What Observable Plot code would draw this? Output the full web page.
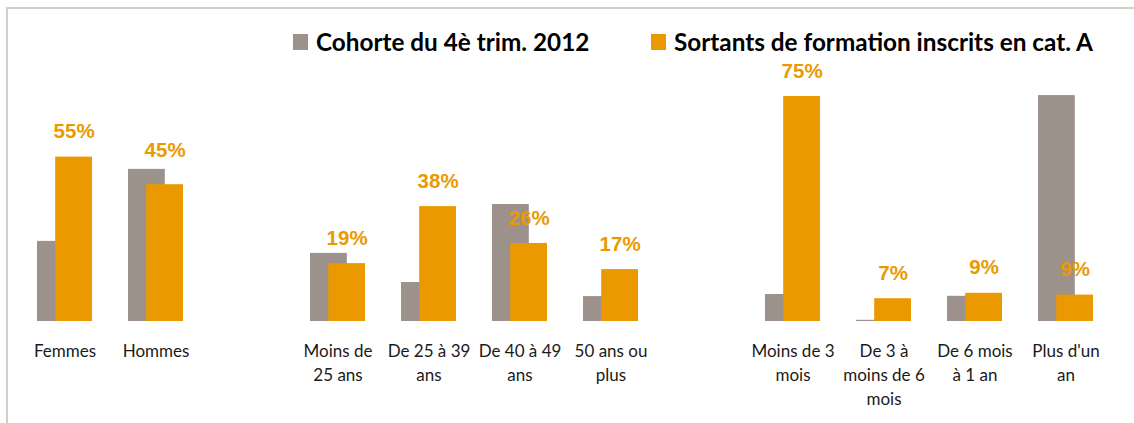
<!DOCTYPE html>
<html>
<head>
<meta charset="utf-8">
<script src="https://cdn.jsdelivr.net/npm/d3@7"></script>
<script src="https://cdn.jsdelivr.net/npm/@observablehq/plot@0.6"></script>
<style>
  html, body { margin: 0; padding: 0; background: #fff; }
  #wrap { position: relative; width: 1134px; height: 423px; overflow: hidden; background: #fff; }
  #frame { position: absolute; left: 6px; top: 7px; width: 1200px; height: 500px;
           border-left: 2px solid #d3ccc7; border-top: 2px solid #d3ccc7; box-sizing: border-box; }
  #chart { position: absolute; left: 0; top: 0; }
  .leg { position: absolute; top: 27px; display: flex; align-items: center;
         font-family: Lato, "Noto Sans", sans-serif; font-weight: 700; font-size: 24.3px; color: #000; white-space: nowrap; }
  .sw { width: 15px; height: 16px; margin-right: 8px; }
</style>
</head>
<body>
<div id="wrap">
  <div id="frame"></div>
  <div id="chart"></div>
  <div id="legend"></div>
</div>
<script>
const seriesNames = ["Cohorte du 4è trim. 2012", "Sortants de formation inscrits en cat. A"];
const seriesColors = ["#9c918b", "#ea9a00"];
const categories = ["Femmes", "Hommes", "Moins de 25 ans", "De 25 à 39 ans", "De 40 à 49 ans", "50 ans ou plus",
  "Moins de 3 mois", "De 3 à moins de 6 mois", "De 6 mois à 1 an", "Plus d'un an"];
const tickLabels = ["Femmes", "Hommes", "Moins de\n25 ans", "De 25 à 39\nans", "De 40 à 49\nans", "50 ans ou\nplus",
  "Moins de 3\nmois", "De 3 à\nmoins de 6\nmois", "De 6 mois\nà 1 an", "Plus d'un\nan"];
const groupBreaks = ["Moins de 25 ans", "Moins de 3 mois"]; // an empty slot precedes each
const cohorte = [26.7, 50.7, 22.7, 13, 39, 8.3, 9, 0.4, 8.4, 75.3];
const sortants = [54.8, 45.6, 19.3, 38.3, 26, 17.3, 75, 7.6, 9.4, 8.8];
const sortantsLabels = ["55%", "45%", "19%", "38%", "26%", "17%", "75%", "7%", "9%", "9%"];
const raisedLabels = ["Hommes"]; // label placed higher in the original

// build domain with spacer slots
const domain = [];
categories.forEach(c => {
  const i = groupBreaks.indexOf(c);
  if (i >= 0) domain.push("__gap" + i);
  domain.push(c);
});
const labelOf = new Map(categories.map((c, i) => [c, tickLabels[i]]));
const rows = categories.map((c, i) => ({cat: c, cohorte: cohorte[i], sortants: sortants[i], label: sortantsLabels[i]}));

const W = 1134, H = 423;
const step = 91;
const x0 = 18.8;
const bandW = step * 0.6;
const inset = bandW / 3;
const labelStyle = {x: "cat", y: "sortants", text: "label", dx: inset / 2, lineAnchor: "bottom",
  fill: seriesColors[1], fontSize: 20.5, fontWeight: 700, fontFamily: "'Liberation Sans', Arial, sans-serif"};

const chart = Plot.plot({
  width: W,
  height: H,
  marginTop: 96,
  marginBottom: H - 321,
  marginLeft: 0,
  marginRight: 0,
  style: {background: "transparent", overflow: "visible"},
  x: {domain, type: "band", range: [x0, x0 + step * domain.length], paddingInner: 0.4, paddingOuter: 0.2, axis: null},
  y: {domain: [0, 75], axis: null},
  marks: [
    Plot.barY(rows, {x: "cat", y: "cohorte", fill: seriesColors[0], insetRight: inset}),
    Plot.barY(rows, {x: "cat", y: "sortants", fill: seriesColors[1], insetLeft: inset}),
    Plot.text(rows.filter(r => !raisedLabels.includes(r.cat)), {...labelStyle, dy: -19}),
    Plot.text(rows.filter(r => raisedLabels.includes(r.cat)), {...labelStyle, dy: -28}),
    Plot.axisX({domain: categories, tickSize: 0, tickPadding: 18, fontSize: 17, lineHeight: 1.43, label: null,
      fontFamily: "Lato, sans-serif", fill: "#1a1a1a",
      tickFormat: d => labelOf.get(d) || ""})
  ]
});
document.getElementById("chart").appendChild(chart);

const legend = document.getElementById("legend");
const legendX = [293, 651];
seriesNames.forEach((n, i) => {
  const d = document.createElement("div");
  d.className = "leg";
  d.style.left = legendX[i] + "px";
  d.innerHTML = `<div class="sw" style="background:${seriesColors[i]}"></div><span>${n}</span>`;
  legend.appendChild(d);
});
</script>
</body>
</html>
